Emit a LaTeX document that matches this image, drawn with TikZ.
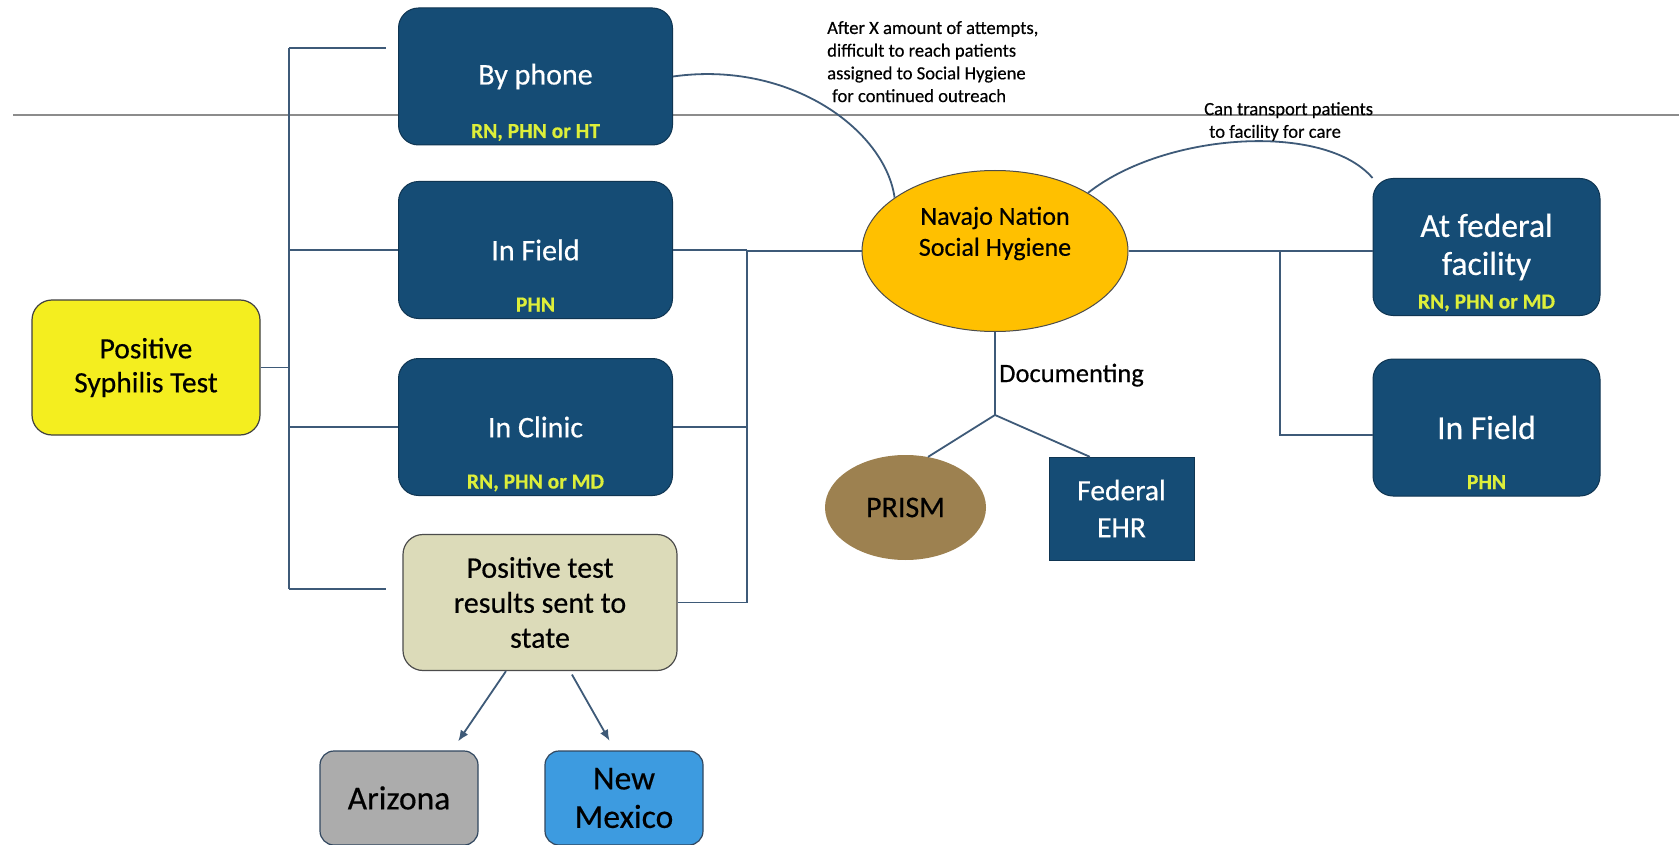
\documentclass[tikz,border=0pt]{standalone}
\usepackage{fontspec}
\setmainfont{Carlito}[FakeBold=0.4]
\usepackage{tikz}
\usetikzlibrary{shapes}
\usetikzlibrary{arrows.meta}
\definecolor{marine}{HTML}{154C75}
\definecolor{jauneTexte}{HTML}{DDEE3A}
\definecolor{trait}{HTML}{3E5A78}
\definecolor{jaune}{HTML}{F4EE1F}
\definecolor{orange}{HTML}{FFC000}
\definecolor{beige}{HTML}{DCDBB9}
\definecolor{gris}{HTML}{ACACAC}
\definecolor{bleuNM}{HTML}{3D9BE0}
\definecolor{brun}{HTML}{9D8150}
\newcommand*{\largeurBoite}{274}
\newcommand*{\hauteurBoite}{137}
\tikzset{
	boite/.style={draw=marine!70!black,line width=1pt,fill=marine,rounded corners=20pt,
		minimum width=\largeurBoite pt,minimum height=\hauteurBoite pt,
		text=white,align=center,font=\fontsize{30}{36}\selectfont},
	boiteDroite/.style={boite,minimum width=227pt,font=\fontsize{33.5}{38}\selectfont},
	sousTitre/.style={anchor=base,inner sep=0pt,text=jauneTexte,font=\fontsize{21.5}{24}\selectfont\bfseries},
	boiteJaune/.style={draw=black!75,line width=1.2pt,fill=jaune,rounded corners=20pt,
		minimum width=228pt,minimum height=135pt,align=center,font=\fontsize{29.5}{34}\selectfont},
	boiteEtat/.style={draw=black!70,line width=1.2pt,fill=beige,rounded corners=20pt,
		minimum width=\largeurBoite pt,minimum height=136pt,align=center,font=\fontsize{30}{35}\selectfont},
	boiteFin/.style={draw=trait!80!black,line width=1.2pt,rounded corners=14pt,
		minimum width=158pt,minimum height=94pt,align=center,font=\fontsize{33.5}{38.5}\selectfont},
	bulle/.style={ellipse,draw=black!70,line width=1pt,fill=orange,minimum width=266pt,minimum height=161pt},
	texteBulle/.style={align=center,inner sep=0pt,font=\fontsize{26}{31}\selectfont},
	prism/.style={ellipse,fill=brun,minimum width=161pt,minimum height=105pt,font=\fontsize{30}{36}\selectfont},
	dme/.style={rectangle,draw=marine!70!black,fill=marine,minimum width=145pt,minimum height=103pt,
		text=white,align=center,font=\fontsize{29.5}{37}\selectfont},
	note/.style={anchor=north west,align=left,inner sep=0pt,font=\fontsize{18.6}{22.7}\selectfont},
	lien/.style={draw=trait,line width=1.8pt},
	fleche/.style={lien,-{Latex[length=11pt,width=9pt]},shorten >=11pt},
	regle/.style={draw=black!45,line width=1.5pt}
}
\begin{document}
\begin{tikzpicture}[x=1pt,y=-1pt]
	\fill[white] (0,0) rectangle (1679,845);
	\useasboundingbox (0,0) rectangle (1679,845);
	\draw[regle] (13,115) -- (1679,115);

	\node[boiteJaune] (test) at (146,367.5) {Positive\\Syphilis Test};
	\node[boite] (tel) at (535.5,76.5) {By phone};
	\node[boite] (terrain) at (535.5,250) {In Field};
	\node[boite] (clinique) at (535.5,427) {In Clinic};
	\node[boiteEtat] (etat) at (540,602.5) {Positive test\\results sent to\\state};
	\node[boiteFin,fill=gris] (arizona) at (399,798) {Arizona};
	\node[boiteFin,fill=bleuNM] (nm) at (624,798) {New\\Mexico};

	\node[sousTitre] (telQui) at ([yshift=7.5pt]tel.south) {RN, PHN or HT};
	\node[sousTitre] (terrainQui) at ([yshift=7.5pt]terrain.south) {PHN};
	\node[sousTitre] (cliniqueQui) at ([yshift=7.5pt]clinique.south) {RN, PHN or MD};

	\node[bulle] (hyg) at (995,251) {};
	\node[texteBulle] (hygTexte) at ([yshift=17.5pt]hyg.center) {Navajo Nation\\Social Hygiene};

	\node[boiteDroite] (federal) at (1486.5,247) {At federal\\facility};
	\node[boiteDroite] (terrainDroit) at (1486.5,427.5) {In Field};
	\node[sousTitre] (federalQui) at ([yshift=7.5pt]federal.south) {RN, PHN or MD};
	\node[sousTitre] (terrainDroitQui) at ([yshift=7.5pt]terrainDroit.south) {PHN};

	\node[prism] (prism) at (905.5,507.5) {PRISM};
	\node[dme] (dme) at (1121.5,508.5) {Federal\\EHR};

	% accolade gauche
	\coordinate (gHaut) at (289,48);
	\coordinate (gBas) at (289,589);
	\coordinate (telEntree) at (386,48);
	\coordinate (etatEntree) at (386,589);
	\draw[lien] (gHaut) -- (gBas);
	\draw[lien] (gHaut) -- (telEntree);
	\draw[lien] (gBas) -- (etatEntree);
	\draw[lien] (test.east) -- (test.east -| gHaut);
	\draw[lien] (terrain.west) -- (terrain.west -| gHaut);
	\draw[lien] (clinique.west) -- (clinique.west -| gHaut);

	% accolade du milieu
	\coordinate (mHaut) at (747,250);
	\coordinate (mBas) at (747,602.5);
	\draw[lien] (mHaut) -- (mBas);
	\draw[lien] (terrain.east) -- (mHaut);
	\draw[lien] (clinique.east) -- (clinique.east -| mHaut);
	\draw[lien] (etat.east) -- (mBas);
	\draw[lien] (mHaut |- hyg.west) -- (hyg.west);

	% accolade droite
	\coordinate (dHaut) at (1280,251);
	\coordinate (dBas) at (1280,435);
	\draw[lien] (hyg.east) -- (hyg.east -| federal.west);
	\draw[lien] (dHaut) -- (dBas) -- (dBas -| terrainDroit.west);

	\coordinate (fourche) at (995,415);
	\draw[lien] (hyg.south) -- (fourche)
		node[pos=0.52,right,font=\fontsize{26.5}{30}\selectfont] (doc) {Documenting};
	\draw[lien] (fourche) -- (prism.66);
	\draw[lien] (fourche) -- ([xshift=41pt]dme.north west);

	\draw[fleche] ([xshift=-34pt]etat.south) -- ([xshift=53pt]arizona.north);
	\draw[fleche,shorten <=4pt] ([xshift=30pt]etat.south) -- ([xshift=-9pt]nm.north);

	\draw[lien] (tel.east) .. controls (790,60) and (885,130) .. (hyg.152);
	\draw[lien] (hyg.32) .. controls (1165,132) and (1325,122) .. (federal.north west);

	\node[note] (noteTel) at (827,21) {After X amount of attempts,\\difficult to reach patients\\assigned to Social Hygiene\\\hspace*{5pt}for continued outreach};
	\node[note] (noteTransport) at (1204,102) {Can transport patients\\\hspace*{5pt}to facility for care};
\end{tikzpicture}
\end{document}
